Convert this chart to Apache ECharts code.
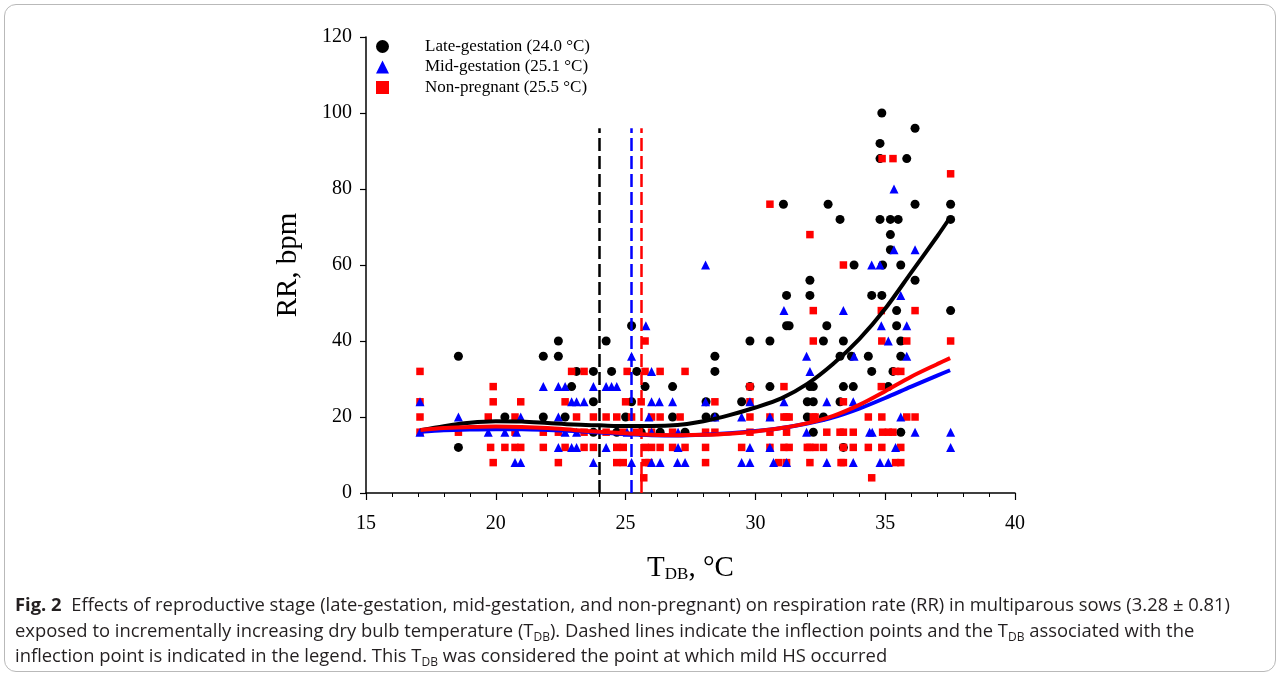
<!DOCTYPE html>
<html>
<head>
<meta charset="utf-8">
<script src="https://cdn.jsdelivr.net/npm/echarts@6/dist/echarts.min.js"></script>
<style>
  html, body { margin: 0; padding: 0; background: #fff; }
  #wrap { position: relative; width: 1282px; height: 680px; }
  #chart { position: absolute; left: 0; top: 0; width: 1282px; height: 680px; }
  .frame {
    position: absolute; left: 4px; top: 4px; width: 1272px; height: 668px;
    border: 1px solid #b9b9b9; border-radius: 12px; box-sizing: border-box;
  }
  .caption {
    position: absolute; left: 15px; top: 591px;
    font-family: "Open Sans", sans-serif; font-size: 18.4px; color: #231f20;
    line-height: 25.5px; white-space: nowrap;
  }
  .caption b { font-weight: 700; }
  .caption sub { font-size: 12px; vertical-align: -4px; line-height: 0; }
</style>
</head>
<body>
<div id="wrap">
  <div class="frame"></div>
  <div id="chart"></div>
  <div class="caption">
    <div><b>Fig. 2</b>&nbsp; Effects of reproductive stage (late-gestation, mid-gestation, and non-pregnant) on respiration rate (RR) in multiparous sows (3.28 ± 0.81)</div>
    <div>exposed to incrementally increasing dry bulb temperature (T<sub>DB</sub>). Dashed lines indicate the inflection points and the T<sub>DB</sub> associated with the</div>
    <div>inflection point is indicated in the legend. This T<sub>DB</sub> was considered the point at which mild HS occurred</div>
  </div>
</div>

<script>
// series names
const names = ['Late-gestation (24.0 °C)', 'Mid-gestation (25.1 °C)', 'Non-pregnant (25.5 °C)']

// observations [T_DB, RR]
const lateGestation = [
  [18.56, 36], [18.56, 12], [20.35, 20], [21.83, 36], [21.83, 20], [22.41, 40], [22.41, 36],
  [22.67, 20], [22.92, 28], [23.11, 32], [23.76, 32], [23.76, 24], [23.76, 16], [24.25, 40],
  [24.46, 32], [25.0, 20], [25.23, 44], [25.23, 24], [25.43, 32], [25.75, 28], [25.6, 16],
  [24.66, 16], [26.33, 16], [26.81, 28], [26.81, 20], [27.29, 16], [28.1, 24], [28.1, 20],
  [28.44, 36], [28.44, 32], [28.44, 20], [29.47, 24], [29.79, 40], [29.79, 28], [30.56, 40],
  [30.56, 28], [31.08, 76], [31.2, 52], [31.2, 44], [31.3, 44], [32.0, 24], [32.0, 20],
  [32.1, 56], [32.1, 52], [32.1, 28], [32.23, 28], [32.23, 24], [32.23, 16], [32.62, 40],
  [32.62, 20], [32.8, 76], [32.75, 44], [33.26, 72], [33.26, 36], [33.26, 24], [33.39, 40],
  [33.39, 28], [33.39, 12], [33.7, 36], [33.77, 28], [33.8, 60], [34.35, 36], [34.48, 52],
  [34.48, 32], [34.8, 92], [34.8, 88], [34.8, 72], [34.87, 100], [34.87, 52], [34.9, 60],
  [35.12, 28], [35.2, 72], [35.2, 68], [35.2, 64], [35.3, 32], [35.44, 48], [35.44, 44],
  [35.5, 72], [35.6, 60], [35.6, 40], [35.6, 36], [35.6, 16], [35.83, 88], [36.15, 96],
  [36.15, 76], [36.15, 56], [37.52, 76], [37.52, 72], [37.52, 48]
]
const midGestation = [
  [17.08, 16], [17.08, 24], [18.56, 20], [19.71, 16], [20.35, 16], [20.74, 8], [20.96, 8],
  [20.96, 20], [20.8, 16], [21.83, 28], [22.41, 28], [22.67, 28], [22.41, 20], [22.41, 12],
  [22.67, 16], [22.92, 24], [23.11, 24], [23.11, 16], [22.92, 12], [23.11, 12], [23.4, 24],
  [23.76, 28], [23.76, 8], [24.25, 28], [24.46, 28], [24.66, 28], [24.25, 12], [25.23, 36],
  [25.23, 8], [25.06, 16], [25.78, 44], [26.0, 32], [26.0, 24], [25.9, 20], [26.3, 24],
  [26.0, 16], [26.0, 8], [26.33, 8], [26.81, 24], [27.02, 16], [27.02, 12], [27.0, 8],
  [27.29, 8], [28.08, 60], [28.08, 24], [28.44, 20], [29.47, 20], [29.47, 8], [29.79, 24],
  [29.79, 12], [29.79, 8], [30.56, 20], [30.56, 12], [30.7, 8], [31.1, 48], [31.1, 24],
  [31.2, 8], [31.97, 36], [31.97, 16], [32.1, 32], [32.75, 24], [32.75, 8], [33.39, 48],
  [33.8, 36], [33.77, 24], [33.77, 8], [34.4, 16], [34.5, 16], [34.48, 60], [34.8, 60],
  [34.85, 44], [34.8, 8], [35.12, 40], [35.12, 8], [35.34, 80], [35.34, 64], [35.4, 12],
  [35.6, 52], [35.6, 20], [35.83, 44], [35.83, 36], [36.15, 64], [36.15, 16], [37.52, 16],
  [37.52, 12]
]
const nonPregnant = [
  [17.08, 32], [17.08, 24], [17.08, 20], [17.08, 16], [18.56, 16], [19.9, 28], [19.9, 24],
  [19.71, 20], [19.8, 12], [19.9, 8], [20.35, 12], [20.74, 20], [20.74, 16], [20.74, 12],
  [20.96, 24], [20.96, 12], [21.83, 16], [21.83, 12], [22.41, 16], [22.41, 8], [22.67, 24],
  [22.67, 12], [22.92, 32], [23.11, 20], [23.4, 32], [23.4, 16], [23.4, 12], [23.76, 20],
  [23.76, 12], [24.25, 20], [24.25, 16], [24.66, 20], [24.66, 12], [24.66, 8], [24.91, 16],
  [24.91, 12], [24.91, 8], [25.06, 32], [25.0, 24], [25.23, 20], [25.43, 16], [25.6, 24],
  [25.75, 40], [25.75, 32], [25.75, 12], [25.75, 8], [25.7, 4], [25.9, 8], [26.0, 20],
  [26.0, 16], [26.0, 12], [26.33, 32], [26.33, 20], [26.33, 12], [26.81, 16], [26.81, 12],
  [27.1, 20], [27.29, 32], [27.29, 12], [28.08, 16], [28.08, 12], [28.08, 8], [28.44, 24],
  [28.44, 16], [29.47, 12], [29.79, 28], [29.79, 24], [29.79, 20], [29.79, 16], [30.56, 76],
  [30.56, 20], [30.56, 16], [30.56, 12], [30.9, 8], [31.1, 28], [31.1, 20], [31.2, 20],
  [31.3, 20], [31.2, 16], [31.1, 12], [31.3, 12], [31.2, 8], [32.0, 12], [32.1, 68],
  [32.1, 12], [32.1, 8], [32.23, 48], [32.23, 40], [32.23, 20], [32.3, 20], [32.3, 12],
  [32.62, 12], [32.75, 16], [33.26, 16], [33.39, 60], [33.39, 24], [33.39, 16], [33.39, 12],
  [33.3, 8], [33.39, 8], [33.77, 16], [33.77, 12], [34.35, 20], [34.35, 12], [34.48, 4],
  [34.85, 48], [34.85, 28], [34.87, 40], [34.87, 20], [34.87, 12], [34.88, 88], [34.9, 16],
  [35.12, 16], [35.3, 88], [35.3, 16], [35.4, 32], [35.4, 8], [35.6, 32], [35.6, 12],
  [35.6, 8], [35.83, 40], [35.83, 20], [36.15, 48], [36.15, 20], [37.52, 84], [37.52, 40]
]

// fitted curves [T_DB, RR]
const lateFit = [
  [17.1, 16.5], [18, 17.6], [19, 18.5], [20, 18.9], [21, 18.8], [22, 18.4], [23, 18.0],
  [24, 17.8], [25, 17.6], [26, 17.6], [27, 17.9], [28, 18.9], [29, 20.5], [30, 22.5],
  [31, 24.9], [32, 28.7], [33, 34], [34, 40.5], [35, 48.5], [36, 58], [37, 67.5], [37.5, 72.5]
]
const midFit = [
  [17.1, 16.1], [18, 16.5], [19, 16.7], [20, 16.8], [21, 16.8], [22, 16.6], [23, 16.3],
  [24, 15.9], [25, 15.5], [26, 15.2], [27, 15.1], [28, 15.3], [29, 15.7], [30, 16.3],
  [31, 17.1], [32, 18.3], [33, 19.9], [34, 22.2], [35, 25.0], [36, 28.0], [37, 30.9], [37.5, 32.3]
]
const nonFit = [
  [17.1, 16.6], [18, 17.1], [19, 17.4], [20, 17.5], [21, 17.4], [22, 17.1], [23, 16.6],
  [24, 16.1], [25, 15.7], [26, 15.3], [27, 15.2], [28, 15.3], [29, 15.6], [30, 16.2],
  [31, 17.1], [32, 18.4], [33, 20.3], [34, 23.2], [35, 26.8], [36, 30.6], [37, 33.9], [37.5, 35.5]
]

// inflection points (T_DB) and the top of the dashed lines
const inflection = [24.0, 25.2, 25.6]
const inflectionTop = 96

const colors = ['#000000', '#0000ff', '#ff0000']
const serif = '"Liberation Serif", "Times New Roman", serif'

let myChart = echarts.init(document.getElementById('chart'))

function dashed (i) {
  return {
    silent: true,
    symbol: 'none',
    label: { show: false },
    lineStyle: { color: colors[i], width: 2.5, type: [13, 5] },
    data: [[{ coord: [inflection[i], 0] }, { coord: [inflection[i], inflectionTop] }]]
  }
}

function fitLine (data, i) {
  return {
    type: 'line',
    data: data,
    smooth: 0.3,
    symbol: 'none',
    silent: true,
    z: 5,
    lineStyle: { color: colors[i], width: 4 },
    markLine: dashed(i)
  }
}

myChart.setOption({
  animation: false,
  grid: {
    left: 366, right: 267, top: 37, bottom: 187,
    containLabel: false, outerBoundsMode: 'none'
  },
  legend: {
    data: names,
    orient: 'vertical',
    left: 371,
    top: 33,
    itemWidth: 13,
    itemHeight: 13,
    itemGap: 3.5,
    textStyle: { fontFamily: serif, fontSize: 17, color: '#000', padding: [0, 0, 0, 31] }
  },
  xAxis: {
    type: 'value',
    min: 15, max: 40, interval: 5,
    name: '{t|T}{s|DB}{t|, °C}',
    nameLocation: 'middle',
    nameGap: 56,
    nameTextStyle: {
      rich: {
        t: { fontFamily: serif, fontSize: 29, color: '#000', verticalAlign: 'bottom', lineHeight: 34 },
        s: { fontFamily: serif, fontSize: 17, color: '#000', verticalAlign: 'bottom', lineHeight: 24 }
      }
    },
    splitLine: { show: false },
    axisLine: { onZero: false, lineStyle: { color: '#000', width: 1.5 } },
    axisTick: { inside: false, length: 7, lineStyle: { color: '#000', width: 1.2 } },
    minorTick: { show: true, splitNumber: 5, length: 4, lineStyle: { color: '#000', width: 1 } },
    axisLabel: { fontFamily: serif, fontSize: 20, color: '#000', margin: 21 }
  },
  yAxis: {
    type: 'value',
    min: 0, max: 120, interval: 20,
    name: 'RR, bpm',
    nameLocation: 'middle',
    nameRotate: 90,
    nameGap: 63,
    nameTextStyle: { fontFamily: serif, fontSize: 29, color: '#000' },
    splitLine: { show: false },
    axisLine: { show: true, onZero: false, lineStyle: { color: '#000', width: 1.5 } },
    axisTick: { show: true, inside: false, length: 6, lineStyle: { color: '#000', width: 1.2 } },
    axisLabel: { fontFamily: serif, fontSize: 20, color: '#000', margin: 14 }
  },
  series: [
    {
      name: names[0], type: 'scatter', data: lateGestation,
      symbol: 'circle', symbolSize: 9, itemStyle: { color: colors[0], opacity: 1 }, z: 2
    },
    {
      name: names[2], type: 'scatter', data: nonPregnant,
      symbol: 'rect', symbolSize: 7.5, itemStyle: { color: colors[2], opacity: 1 }, z: 3
    },
    {
      name: names[1], type: 'scatter', data: midGestation,
      symbol: 'triangle', symbolSize: 9, itemStyle: { color: colors[1], opacity: 1 }, z: 4
    },
    fitLine(lateFit, 0),
    fitLine(midFit, 1),
    fitLine(nonFit, 2)
  ]
})
</script>
</body>
</html>
